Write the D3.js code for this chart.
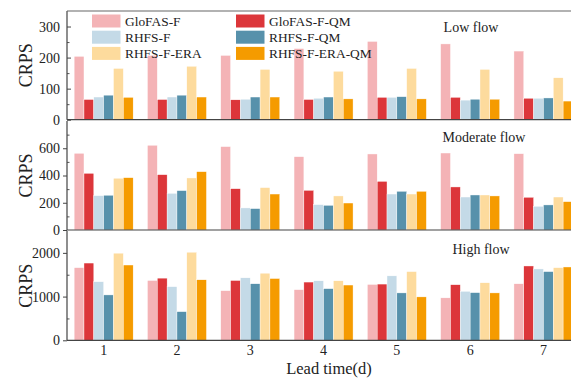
<!DOCTYPE html>
<html>
<head>
<meta charset="utf-8">
<script src="https://cdn.jsdelivr.net/npm/d3@7"></script>
<style>
  body { margin: 0; background: #fff; }
  svg { display: block; font-family: "Liberation Serif", "Times New Roman", serif; }
</style>
</head>
<body>
<svg id="chart" width="571" height="378"></svg>
<script>
// lead times (days)
const leadTimes = [1, 2, 3, 4, 5, 6, 7];
const seriesNames = ['GloFAS-F', 'GloFAS-F-QM', 'RHFS-F', 'RHFS-F-QM', 'RHFS-F-ERA', 'RHFS-F-ERA-QM'];
const seriesColors = ['#f4b3b6', '#dc363a', '#c4dae7', '#5791ab', '#fddb9d', '#f59b00'];

// CRPS, one row per series, one value per lead time
const lowFlow = [
  [204, 207, 207, 229, 252, 244, 221],
  [65, 65, 64, 65, 72, 72, 69],
  [73, 73, 66, 69, 72, 63, 69],
  [79, 79, 73, 73, 74, 66, 70],
  [165, 172, 162, 156, 165, 162, 135],
  [72, 73, 73, 67, 67, 66, 60]
];
const moderateFlow = [
  [563, 622, 612, 538, 558, 565, 560],
  [416, 406, 303, 291, 357, 316, 240],
  [252, 269, 162, 186, 264, 242, 174],
  [255, 289, 157, 181, 284, 257, 184],
  [380, 382, 311, 250, 264, 257, 242],
  [384, 428, 264, 198, 284, 250, 208]
];
const highFlow = [
  [1661, 1368, 1135, 1158, 1278, 971, 1293],
  [1767, 1422, 1368, 1332, 1286, 1271, 1700],
  [1339, 1226, 1429, 1361, 1474, 1120, 1632],
  [1038, 655, 1293, 1181, 1084, 1090, 1571],
  [1993, 2015, 1535, 1361, 1571, 1316, 1661],
  [1722, 1384, 1413, 1264, 993, 1084, 1677]
];

const panelTitles = ['Low flow', 'Moderate flow', 'High flow'];
const panelMax = [350, 800, 2500];
const panelTicks = [[0, 100, 200, 300], [0, 200, 400, 600], [0, 1000, 2000]];
const panelMinor = [[50, 150, 250], [100, 300, 500, 700], [500, 1500]];

const svg = d3.select('#chart');
const left = 67;
const step = 73.3;

// panel vertical extents [top, zero line]
const panels = [
  { top: 11, bottom: 119.7, data: lowFlow, titleX: 471, titleY: 32 },
  { top: 121, bottom: 230, data: moderateFlow, titleX: 484, titleY: 142 },
  { top: 231, bottom: 340.3, data: highFlow, titleX: 481, titleY: 254 }
];

const x0 = d3.scaleBand()
  .domain(leadTimes)
  .range([left, left + step * leadTimes.length])
  .paddingInner(0.195)
  .paddingOuter(0.0975);
const x1 = d3.scaleBand()
  .domain(d3.range(seriesNames.length))
  .range([0, x0.bandwidth()]);

panels.forEach((p, pi) => {
  const y = d3.scaleLinear().domain([0, panelMax[pi]]).range([p.bottom, p.top]);
  const g = svg.append('g');

  // bars
  p.data.forEach((vals, si) => {
    g.selectAll(null)
      .data(vals)
      .enter().append('rect')
      .attr('x', (d, i) => x0(leadTimes[i]) + x1(si))
      .attr('y', d => y(d))
      .attr('width', x1.bandwidth())
      .attr('height', d => p.bottom - y(d))
      .attr('fill', seriesColors[si])
      .attr('stroke', '#fff')
      .attr('stroke-width', 0.4);
  });

  // y axis
  const yAxis = d3.axisLeft(y).tickValues(panelTicks[pi]).tickFormat(d3.format('d'))
    .tickSize(pi === 0 ? -4 : 4).tickPadding(pi === 0 ? 7 : 3);
  const ya = g.append('g')
    .attr('transform', `translate(${left},0)`)
    .call(yAxis);
  ya.select('.domain').remove();
  ya.selectAll('text').attr('font-size', 14).attr('fill', '#222').attr('font-family', '"Liberation Serif", serif');
  ya.selectAll('line').attr('stroke', '#444');

  const yMinor = d3.axisLeft(y).tickValues(panelMinor[pi]).tickSize(-2.5).tickFormat('');
  const ym = g.append('g')
    .attr('transform', `translate(${left},0)`)
    .call(yMinor);
  ym.select('.domain').remove();
  ym.selectAll('line').attr('stroke', '#555');

  // left axis line and zero line
  g.append('line')
    .attr('x1', left).attr('x2', left)
    .attr('y1', p.top).attr('y2', p.bottom)
    .attr('stroke', '#444').attr('stroke-width', 1.2);
  g.append('line')
    .attr('x1', left).attr('x2', 571)
    .attr('y1', p.bottom).attr('y2', p.bottom)
    .attr('stroke', '#444').attr('stroke-width', 1.2);

  // y label
  g.append('text')
    .attr('transform', `translate(32,${(p.top + p.bottom) / 2}) rotate(-90)`)
    .attr('text-anchor', 'middle')
    .attr('font-size', 18)
    .attr('fill', '#222')
    .text('CRPS');

  // panel title
  g.append('text')
    .attr('x', p.titleX).attr('y', p.titleY)
    .attr('text-anchor', 'middle')
    .attr('font-size', 14)
    .attr('fill', '#222')
    .text(panelTitles[pi]);
});

// top frame line
svg.append('line')
  .attr('x1', left).attr('x2', 571)
  .attr('y1', 11).attr('y2', 11)
  .attr('stroke', '#666').attr('stroke-width', 1.2);

// x axis labels
const xAxis = d3.axisBottom(x0).tickSize(0).tickPadding(5);
const xa = svg.append('g')
  .attr('transform', `translate(0,${panels[2].bottom})`)
  .call(xAxis);
xa.select('.domain').remove();
xa.selectAll('text').attr('font-size', 14).attr('fill', '#222').attr('font-family', '"Liberation Serif", serif');

svg.append('text')
  .attr('x', 329).attr('y', 374)
  .attr('text-anchor', 'middle')
  .attr('font-size', 16.5)
  .attr('fill', '#222')
  .text('Lead time(d)');

// legend, two columns
const legend = svg.append('g');
seriesNames.forEach((name, i) => {
  const col = i % 2;
  const row = Math.floor(i / 2);
  const lx = col === 0 ? 92 : 236;
  const ly = 21 + row * 16.2;
  legend.append('rect')
    .attr('x', lx).attr('y', ly - 6.5)
    .attr('width', 28.5).attr('height', 13)
    .attr('fill', seriesColors[i]);
  legend.append('text')
    .attr('x', lx + 33).attr('y', ly + 4.5)
    .attr('font-size', 13.4)
    .attr('fill', '#222')
    .text(name);
});
</script>
</body>
</html>
